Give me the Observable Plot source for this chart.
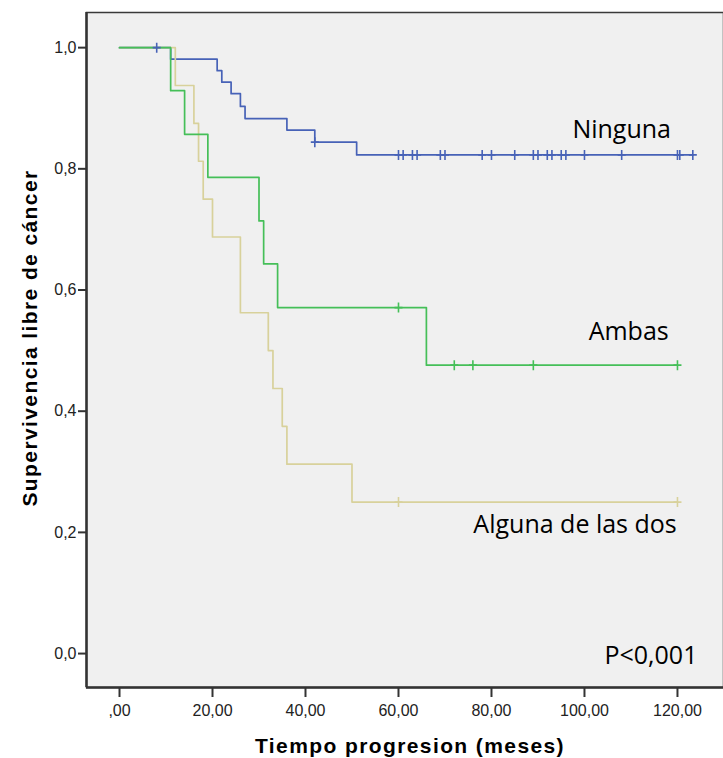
<!DOCTYPE html>
<html>
<head>
<meta charset="utf-8">
<script src="https://cdn.jsdelivr.net/npm/d3@7"></script>
<script src="https://cdn.jsdelivr.net/npm/@observablehq/plot@0.6"></script>
<style>
  html, body { margin: 0; padding: 0; background: #ffffff; }
  #chart { width: 723px; height: 758px; }
</style>
</head>
<body>
<div id="chart"></div>
<script>
// ---- Data ----
const groups = ["Ninguna", "Alguna de las dos", "Ambas"];
const groupColors = ["#4762b7", "#d8d19b", "#45bf58"];

// Ninguna (blue)
const ningunaTime = [0, 11, 21, 22, 24, 26, 27, 36, 42, 51, 123.3];
const ningunaSurv = [1, 0.981, 0.962, 0.943, 0.924, 0.903, 0.883, 0.864, 0.844, 0.823, 0.823];
const ningunaCensTime = [8, 42, 60, 61, 63, 64, 69, 70, 78, 80, 85, 89, 90, 92, 93, 95, 96, 100, 108, 120, 120.5, 123.3];
const ningunaCensSurv = [1, 0.844, 0.823, 0.823, 0.823, 0.823, 0.823, 0.823, 0.823, 0.823, 0.823, 0.823, 0.823, 0.823, 0.823, 0.823, 0.823, 0.823, 0.823, 0.823, 0.823, 0.823];

// Alguna de las dos (yellow)
const algunaTime = [0, 12, 16, 17, 18, 20, 26, 32, 33, 35, 36, 50, 120];
const algunaSurv = [1, 0.9375, 0.875, 0.8125, 0.75, 0.6875, 0.5625, 0.5, 0.4375, 0.375, 0.3125, 0.25, 0.25];
const algunaCensTime = [60, 120];
const algunaCensSurv = [0.25, 0.25];

// Ambas (green)
const ambasTime = [0, 11, 14, 19, 30, 31, 34, 66, 120];
const ambasSurv = [1, 0.929, 0.857, 0.786, 0.714, 0.643, 0.571, 0.476, 0.476];
const ambasCensTime = [60, 72, 76, 89, 120];
const ambasCensSurv = [0.571, 0.476, 0.476, 0.476, 0.476];

// Axis ticks
const xTicks = [0, 20, 40, 60, 80, 100, 120];
const xTickLabels = [",00", "20,00", "40,00", "60,00", "80,00", "100,00", "120,00"];
const yTicks = [0, 0.2, 0.4, 0.6, 0.8, 1.0];
const yTickLabels = ["0,0", "0,2", "0,4", "0,6", "0,8", "1,0"];
const xTitle = "Tiempo progresion (meses)";
const yTitle = "Supervivencia libre de cáncer";

// Annotations (data coordinates)
const noteText = ["Ninguna", "Ambas", "Alguna de las dos", "P<0,001"];
const noteTime = [97.4, 100.9, 76.1, 104.3];
const noteSurv = [0.8515, 0.518, 0.1997, -0.0165];

const xDomain = [-7.1, 129.9];
const yDomain = [-0.056, 1.058];

// ---- Build tables ----
function table(name, t, s) { return t.map((d, i) => ({group: name, t: d, s: s[i]})); }
const curves = [
  table(groups[0], ningunaTime, ningunaSurv),
  table(groups[1], algunaTime, algunaSurv),
  table(groups[2], ambasTime, ambasSurv)
];
const censors = [
  table(groups[0], ningunaCensTime, ningunaCensSurv),
  table(groups[1], algunaCensTime, algunaCensSurv),
  table(groups[2], ambasCensTime, ambasCensSurv)
];
const notes = noteText.map((d, i) => ({text: d, t: noteTime[i], s: noteSurv[i]}));

const censorSymbol = {
  draw(context, size) {
    const r = Math.sqrt(size / Math.PI);
    context.moveTo(0, -r); context.lineTo(0, r);
    context.moveTo(-r * 0.8, 0); context.lineTo(r * 0.8, 0);
  }
};

const marks = [
  Plot.frame({fill: "#f0f0f0", stroke: "#3a3a3a", strokeWidth: 1.5}),
];
curves.forEach((c, i) => {
  marks.push(Plot.line(c, {x: "t", y: "s", curve: "step-after", stroke: groupColors[i], strokeWidth: 1.7}));
});
censors.forEach((c, i) => {
  marks.push(Plot.dot(c, {x: "t", y: "s", r: 5, symbol: censorSymbol, stroke: groupColors[i], strokeWidth: 1.6, fill: "none"}));
});
marks.push(
  Plot.ruleX([xDomain[0]], {stroke: "#333", strokeWidth: 2.5}),
  Plot.ruleY([yDomain[0]], {stroke: "#333", strokeWidth: 2.5}),
  Plot.axisX(xTicks, {tickFormat: d => xTickLabels[xTicks.indexOf(d)], tickSize: 10, tickPadding: 7, stroke: "#333", strokeWidth: 2, label: null, fontSize: 16, fill: "#222"}),
  Plot.axisY(yTicks, {tickFormat: d => yTickLabels[yTicks.indexOf(d)], tickSize: 8, tickPadding: 2, stroke: "#333", strokeWidth: 2, label: null, fontSize: 16, fill: "#222"}),
  Plot.text(notes, {x: "t", y: "s", text: "text", textAnchor: "start", lineAnchor: "bottom", fontSize: 25, fill: "#000", fontFamily: "Open Sans"}),
  Plot.text([xTitle], {frameAnchor: "bottom", dx: 5, dy: 65, textAnchor: "middle", lineAnchor: "bottom", fontSize: 21, fontWeight: "bold", fill: "#000"}),
  Plot.text([yTitle], {frameAnchor: "left", dx: -50, dy: -12, rotate: -90, textAnchor: "middle", lineAnchor: "bottom", fontSize: 21, fontWeight: "bold", fill: "#000"})
);

const chart = Plot.plot({
  width: 723,
  height: 758,
  marginLeft: 86,
  marginRight: 0,
  marginTop: 12,
  marginBottom: 71,
  x: {domain: xDomain},
  y: {domain: yDomain},
  style: {fontFamily: "'Liberation Sans', Arial, sans-serif", fontSize: "16px", background: "#ffffff", color: "#222"},
  marks
});
// Wider letter spacing on the axis titles, as in the reference
d3.select(chart).selectAll("text").filter(function() {
  return this.textContent === xTitle || this.textContent === yTitle;
}).attr("letter-spacing", "1.4px");
document.getElementById("chart").appendChild(chart);
</script>
</body>
</html>
